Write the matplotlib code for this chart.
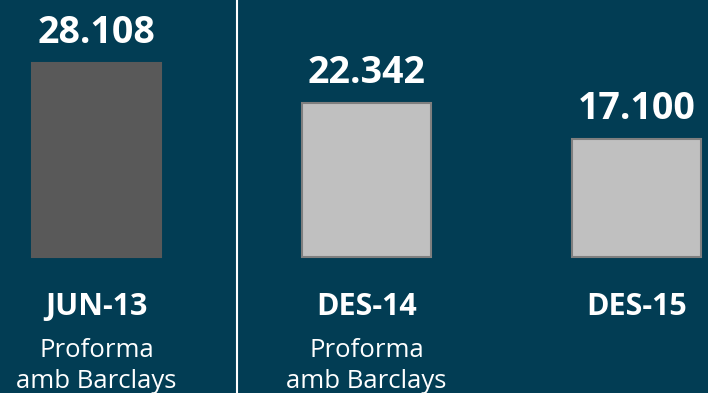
import matplotlib
matplotlib.use("Agg")
import matplotlib.pyplot as plt

# ---------- Data ----------
periods = ["JUN-13", "DES-14", "DES-15"]
notes = ["Proforma\namb Barclays", "Proforma\namb Barclays", ""]
values = [28108, 22342, 17100]
value_labels = ["28.108", "22.342", "17.100"]

bg = "#023d54"
face_colors = ["#595959", "#c0c0c0", "#c0c0c0"]
edge_colors = ["#595959", "#7f7f7f", "#7f7f7f"]

plt.rcParams["font.family"] = ["Open Sans", "DejaVu Sans"]

fig = plt.figure(figsize=(7.08, 3.93), dpi=100, facecolor=bg)
ax = fig.add_axes([0, 0, 1, 1], facecolor=bg)

x = list(range(len(values)))
ax.bar(x, values, width=0.478, color=face_colors, edgecolor=edge_colors, linewidth=1.5)

# value labels above bars, period + note below
for xi, v, lab, per, note in zip(x, values, value_labels, periods, notes):
    ax.annotate(lab, (xi, v), xytext=(0, 14.5), textcoords="offset points",
                ha="center", va="baseline", color="white", fontsize=27, fontweight="bold")
    ax.annotate(per, (xi, 0), xytext=(0, -41.8), textcoords="offset points",
                ha="center", va="baseline", color="white", fontsize=22, fontweight="bold")
    if note:
        l1, l2 = note.split("\n")
        ax.annotate(l1, (xi, 0), xytext=(0, -72), textcoords="offset points",
                    ha="center", va="baseline", color="white", fontsize=18.5)
        ax.annotate(l2, (xi, 0), xytext=(0, -94.3), textcoords="offset points",
                    ha="center", va="baseline", color="white", fontsize=18.5)

# separator between the first period and the rest
ax.axvline(0.52, color="white", linewidth=1.5)

ax.set_xlim(-0.357, 2.265)
ax.set_ylim(-19704, 37236)
ax.axis("off")

fig.savefig("out.png", dpi=100, facecolor=bg)
